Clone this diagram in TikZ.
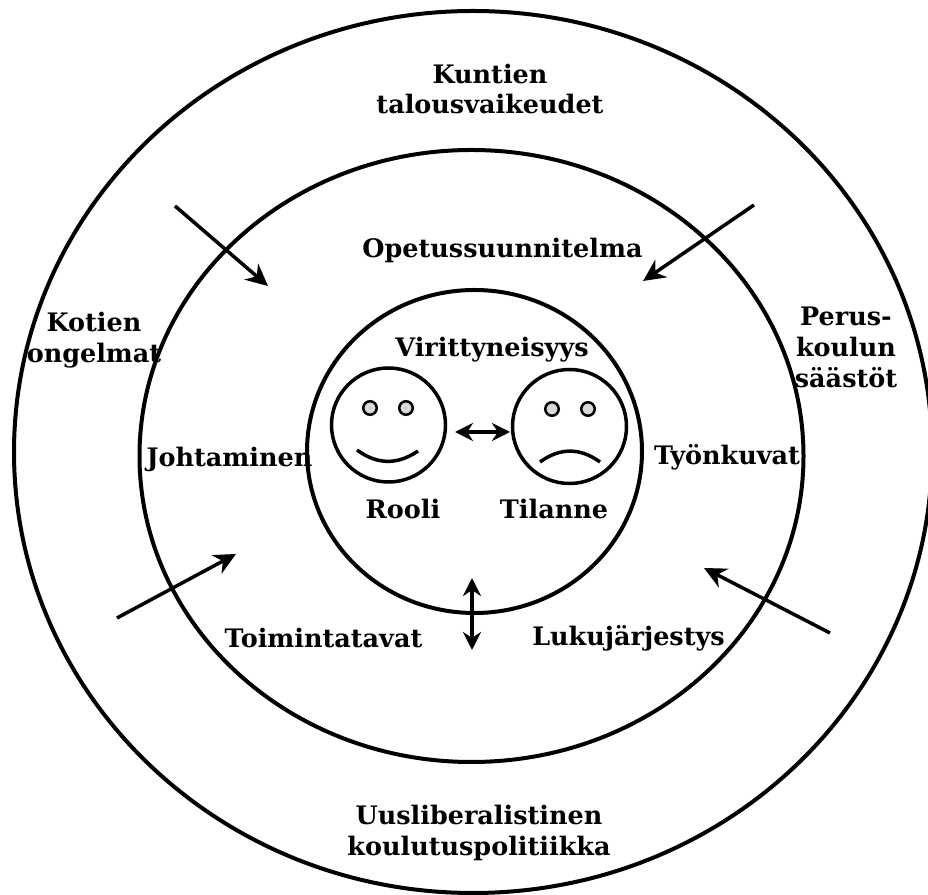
\documentclass[tikz,border=0pt]{standalone}
\usepackage{fontspec}
\setmainfont{DejaVu Serif}
\usetikzlibrary{arrows.meta,shapes.geometric}

\tikzset{
  ring/.style={draw, ellipse, line width=0.8mm, inner sep=0pt},
  face/.style={draw, circle, line width=0.7mm, inner sep=0pt, minimum size=2.28cm},
  eye/.style={draw, circle, line width=0.5mm, inner sep=0pt, minimum size=0.27cm, fill=black!15},
  mouth/.style={line width=0.7mm},
  label/.style={align=center, inner sep=0pt, font=\fontsize{14.5}{17.6}\selectfont\bfseries},
  push/.style={-{Stealth[length=4.4mm, width=4.2mm]}, line width=0.7mm},
  swap/.style={{Stealth[length=3.6mm, width=3.6mm]}-{Stealth[length=3.6mm, width=3.6mm]}, line width=0.7mm}
}

\begin{document}
\begin{tikzpicture}

  \useasboundingbox (0, 0) rectangle (18.56, 17.9);

  \node[ring, minimum width=18.36cm, minimum height=17.64cm] (outer) at (9.46, 8.86) {};
  \node[ring, minimum width=13.28cm, minimum height=12.24cm] (middle) at (9.43, 8.78) {};
  \node[ring, minimum width=6.7cm, minimum height=6.46cm] (inner) at (9.49, 8.87) {};

  \node[face] (happy) at (7.77, 9.4) {};
  \node[face] (sad) at (11.39, 9.37) {};
  \node[eye] (h1) at (7.4, 9.74) {};
  \node[eye] (h2) at (8.12, 9.74) {};
  \node[eye] (s1) at (11.04, 9.72) {};
  \node[eye] (s2) at (11.76, 9.72) {};

  \coordinate (ha) at (7.14, 8.9);
  \coordinate (hb) at (8.36, 8.88);
  \coordinate (sa) at (10.8, 8.66);
  \coordinate (sb) at (12.0, 8.66);
  \draw[mouth] (ha) .. controls (7.55, 8.6) and (7.95, 8.6) .. (hb);
  \draw[mouth] (sa) .. controls (11.2, 8.95) and (11.6, 8.95) .. (sb);

  \coordinate (a1) at (3.5, 13.78);
  \coordinate (a2) at (5.36, 12.18);
  \coordinate (b1) at (15.08, 13.8);
  \coordinate (b2) at (12.86, 12.28);
  \coordinate (c1) at (2.34, 5.54);
  \coordinate (c2) at (4.72, 6.82);
  \coordinate (d1) at (16.6, 5.24);
  \coordinate (d2) at (14.08, 6.54);
  \draw[push] (a1) to (a2);
  \draw[push] (b1) to (b2);
  \draw[push] (c1) to (c2);
  \draw[push] (d1) to (d2);

  \coordinate (e1) at (9.1, 9.26);
  \coordinate (e2) at (10.2, 9.26);
  \coordinate (f1) at (9.44, 6.34);
  \coordinate (f2) at (9.44, 4.9);
  \draw[swap] (e1) to (e2);
  \draw[swap] (f1) to (f2);

  \node[label] (kunnat) at (9.8, 16.12) {Kuntien\\talousvaikeudet};
  \node[label] (ops) at (10.05, 12.9) {Opetussuunnitelma};
  \node[label] (koti) at (1.88, 11.1) {Kotien\\ongelmat};
  \node[label] (perus) at (16.92, 10.96) {Perus-\\koulun\\säästöt};
  \node[label] (viritys) at (9.84, 10.9) {Virittyneisyys};
  \node[label] (johto) at (4.59, 8.72) {Johtaminen};
  \node[label] (tyo) at (14.54, 8.76) {Työnkuvat};
  \node[label] (rooli) at (8.06, 7.72) {Rooli};
  \node[label] (tilanne) at (11.08, 7.72) {Tilanne};
  \node[label] (tapa) at (6.47, 5.14) {Toimintatavat};
  \node[label] (luku) at (12.57, 5.14) {Lukujärjestys};
  \node[label] (uus) at (9.58, 1.24) {Uusliberalistinen\\koulutuspolitiikka};

\end{tikzpicture}
\end{document}
